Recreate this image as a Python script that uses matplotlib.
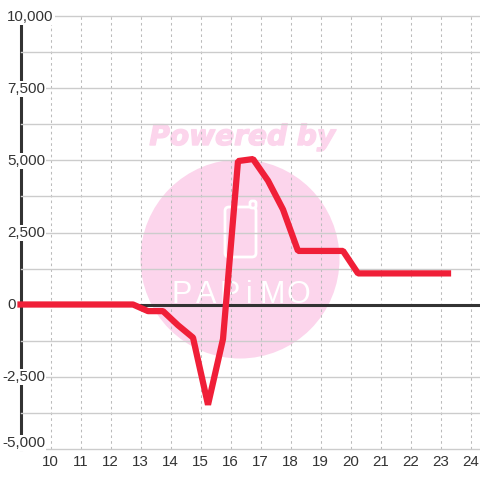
import matplotlib
matplotlib.use('Agg')
import matplotlib.pyplot as plt
import matplotlib.patheffects as pe
from matplotlib.patches import Circle, FancyBboxPatch
from matplotlib.transforms import IdentityTransform, ScaledTranslation
from matplotlib.ticker import MultipleLocator

hours = [9.0, 9.25, 9.75, 10.25, 10.75, 11.25, 11.75, 12.25, 12.75, 13.25, 13.75, 14.25, 14.75, 15.25, 15.75,
         16.25, 16.75, 17.25, 17.75, 18.25, 18.75, 19.25, 19.75, 20.25, 20.75, 21.25, 21.75, 22.25, 22.75, 23.25]
values = [0, 0, 0, 0, 0, 0, 0, 0, 0, -230, -230, -720, -1150, -3480, -1200,
          4980, 5050, 4300, 3300, 1860, 1860, 1860, 1860, 1080, 1080, 1080, 1080, 1080, 1080, 1080]
x_ticks = list(range(10, 25))
y_ticks = [-5000, -2500, 0, 2500, 5000, 7500, 10000]
y_labels = ['-5,000', '-2,500', '0', '2,500', '5,000', '7,500', '10,000']

PINK = '#FCD5EC'
RED = '#F01F38'
DARK = '#333333'
GRID = '#CCCCCC'

plt.rcParams['font.family'] = ['Liberation Sans', 'DejaVu Sans']
fig = plt.figure(figsize=(4.8, 4.8), dpi=100, facecolor='white')
ax = fig.add_axes([20.5 / 480, (480 - 448.5) / 480, (480 - 20.5) / 480, (448.5 - 16.5) / 480])
ax.patch.set_visible(False)

def py(y):
    return 480 - y

id_t = IdentityTransform()
fig.add_artist(Circle((240, py(259)), 99.5, transform=id_t, fc=PINK, ec='none', zorder=-3))
fig.add_artist(FancyBboxPatch((225, py(257)), 31, 50, boxstyle='round,pad=0,rounding_size=4',
                              transform=id_t, fc='none', ec='white', lw=2, zorder=-2))
fig.add_artist(FancyBboxPatch((250, py(208)), 6, 7, boxstyle='round,pad=0,rounding_size=2',
                              transform=id_t, fc=PINK, ec='white', lw=2, zorder=-2))
t = fig.text(242, py(145), 'Powered by', transform=id_t, family='DejaVu Sans', weight='bold', style='italic',
             fontsize=20.2, color=PINK, ha='center', va='baseline', zorder=-2)
t.set_path_effects([pe.withStroke(linewidth=1.0, foreground=PINK)])
for ch, cx in zip('PAPiMO', [182, 206, 230, 249, 272, 298]):
    fig.text(cx, py(303), ch, transform=id_t, family='Liberation Sans',
             fontsize=22, color='white', ha='center', va='baseline', zorder=-2)

ax.set_xlim(9, 9 + (480 - 20.5) / 30)
ax.set_ylim(-5000, 10000)
ax.set_xticks(x_ticks)
ax.set_yticks(y_ticks)
ax.set_yticklabels(y_labels)
ax.yaxis.set_minor_locator(MultipleLocator(1250))
ax.set_axisbelow(False)
ax.grid(True, axis='y', which='both', color=GRID, lw=1, clip_on=False)
ax.grid(True, axis='x', which='major', color='#BBBBBB', lw=0.75, linestyle=(0, (2.5, 3)), clip_on=False)
ax.tick_params(axis='both', which='both', length=0, labelsize=10.9, labelcolor=DARK)
ax.tick_params(axis='x', pad=4.6)

for s in ['top', 'right', 'bottom']:
    ax.spines[s].set_visible(False)
ax.spines['left'].set_linewidth(2.2)
ax.spines['left'].set_color(DARK)
ax.spines['left'].set_zorder(2)

base = ax.get_yaxis_transform(which='tick1')
for tick, lab in zip(ax.yaxis.get_major_ticks(), y_labels):
    dx = (2 if lab.startswith('-') else 7) - 20.5
    dy = 5.5 if lab == '-5,000' else -0.5
    tick.label1.set_transform(base + ScaledTranslation(dx / 100, dy / 100, fig.dpi_scale_trans))
    tick.label1.set_horizontalalignment('left')
    tick.label1.set_verticalalignment('center')
    tick.label1.set_bbox(dict(fc='white', ec='none', pad=1))

ax.axhline(0, color=DARK, lw=2.2, zorder=2.8)
ax.plot(hours, values, color=RED, lw=4.5, zorder=3, solid_joinstyle='bevel', solid_capstyle='projecting', clip_on=False)
ax.set_xlim(9, 9 + (480 - 20.5) / 30)

fig.savefig('out.png', dpi=100, facecolor='white')
